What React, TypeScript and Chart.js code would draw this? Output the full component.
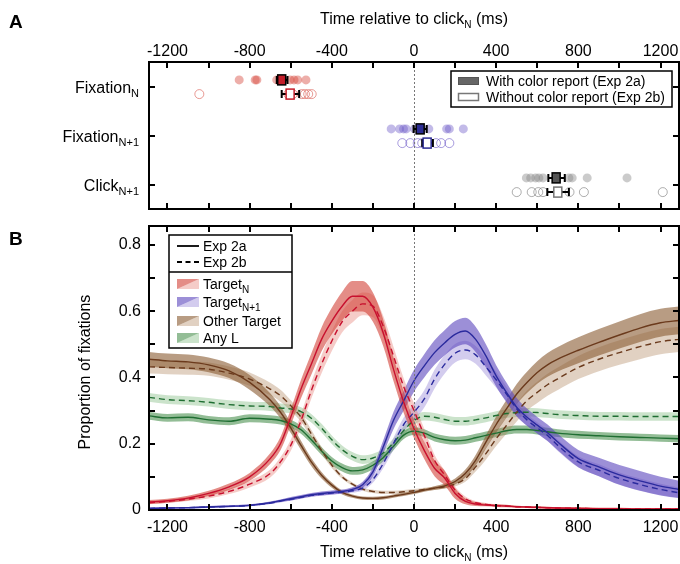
import React, { useEffect, useRef } from 'react';
import { Chart, registerables } from 'chart.js';
Chart.register(...registerables);

const FONT = '"Liberation Sans", Arial, Helvetica, sans-serif';
Chart.defaults.font.family = FONT;
Chart.defaults.color = '#000';

// ---------------- Panel A data (ms relative to click N) ----------------
const A_ROWS = ['Fixation', 'Fixation', 'Click'];
const A_ROW_SUBS = ['N', 'N+1', 'N+1'];
const fixN_2a_dots = [-851, -773, -765, -668, -639, -603, -584, -566, -526];
const fixN_2b_dots = [-1045, -612, -590, -547, -531, -515, -498];
const fixN1_2a_dots = [-111, -70, -51, -38, 2, 30, 72, 159, 172, 240];
const fixN1_2b_dots = [-57, -18, 18, 40, 64, 107, 132, 172];
const click_2a_dots = [547, 568, 592, 608, 628, 692, 754, 770, 843, 1037];
const click_2b_dots = [500, 573, 605, 628, 700, 757, 827, 1211];
const A_MEAN_2A = [-644, 30, 692];
const A_LO_2A = [-668, -2, 654];
const A_HI_2A = [-616, 62, 734];
const A_MEAN_2B = [-603, 64, 700];
const A_LO_2B = [-644, 40, 649];
const A_HI_2B = [-559, 92, 754];
const A_LEGEND = ['With color report (Exp 2a)', 'Without color report (Exp 2b)'];

// ---------------- Panel B data ----------------
const T = [-1290, -1200, -1100, -1000, -900, -800, -700, -650, -600, -550, -500, -450, -400, -350, -300, -250, -200, -150, -100, -50, 0, 50, 100, 150, 200, 250, 300, 350, 400, 450, 500, 550, 600, 650, 700, 800, 900, 1000, 1100, 1200, 1290];

const targetN_2a = [0.024, 0.028, 0.036, 0.05, 0.07, 0.1, 0.155, 0.2, 0.28, 0.365, 0.44, 0.515, 0.57, 0.615, 0.645, 0.645, 0.612, 0.535, 0.425, 0.325, 0.245, 0.18, 0.126, 0.096, 0.05, 0.026, 0.018, 0.015, 0.013, 0.012, 0.01, 0.009, 0.008, 0.007, 0.006, 0.005, 0.004, 0.004, 0.003, 0.003, 0.003];
const targetN_2a_se = [0.006, 0.006, 0.007, 0.008, 0.01, 0.012, 0.016, 0.02, 0.024, 0.028, 0.032, 0.036, 0.04, 0.043, 0.046, 0.046, 0.044, 0.04, 0.036, 0.032, 0.028, 0.026, 0.024, 0.022, 0.016, 0.009, 0.006, 0.004, 0.004, 0.004, 0.003, 0.003, 0.003, 0.003, 0.003, 0.003, 0.003, 0.003, 0.003, 0.003, 0.003];
const targetN_2b = [0.022, 0.026, 0.033, 0.042, 0.056, 0.078, 0.11, 0.145, 0.195, 0.27, 0.36, 0.44, 0.51, 0.568, 0.6, 0.622, 0.615, 0.555, 0.465, 0.372, 0.3, 0.225, 0.15, 0.105, 0.06, 0.034, 0.022, 0.017, 0.014, 0.012, 0.01, 0.009, 0.008, 0.007, 0.006, 0.005, 0.004, 0.004, 0.003, 0.003, 0.003];
const targetN_2b_se = [0.005, 0.005, 0.006, 0.007, 0.008, 0.01, 0.012, 0.014, 0.017, 0.02, 0.024, 0.027, 0.03, 0.032, 0.034, 0.034, 0.033, 0.031, 0.028, 0.025, 0.022, 0.02, 0.017, 0.014, 0.01, 0.007, 0.005, 0.004, 0.003, 0.003, 0.003, 0.003, 0.003, 0.003, 0.003, 0.003, 0.003, 0.003, 0.003, 0.003, 0.003];

const targetN1_2a = [0.005, 0.006, 0.007, 0.009, 0.011, 0.014, 0.022, 0.028, 0.034, 0.04, 0.046, 0.05, 0.053, 0.056, 0.062, 0.076, 0.115, 0.19, 0.27, 0.33, 0.39, 0.435, 0.475, 0.505, 0.53, 0.54, 0.515, 0.465, 0.405, 0.355, 0.31, 0.28, 0.256, 0.233, 0.205, 0.155, 0.13, 0.106, 0.088, 0.072, 0.062];
const targetN1_2a_se = [0.002, 0.002, 0.002, 0.003, 0.003, 0.003, 0.004, 0.004, 0.005, 0.005, 0.005, 0.006, 0.006, 0.006, 0.007, 0.009, 0.014, 0.02, 0.026, 0.03, 0.033, 0.035, 0.037, 0.038, 0.04, 0.04, 0.038, 0.035, 0.032, 0.03, 0.028, 0.026, 0.025, 0.025, 0.025, 0.026, 0.028, 0.03, 0.03, 0.028, 0.026];
const targetN1_2b = [0.005, 0.006, 0.007, 0.009, 0.011, 0.014, 0.021, 0.027, 0.032, 0.038, 0.044, 0.048, 0.051, 0.054, 0.058, 0.066, 0.092, 0.14, 0.2, 0.258, 0.295, 0.335, 0.395, 0.44, 0.473, 0.483, 0.468, 0.432, 0.393, 0.35, 0.305, 0.272, 0.248, 0.225, 0.195, 0.145, 0.12, 0.095, 0.077, 0.062, 0.052];
const targetN1_2b_se = [0.002, 0.002, 0.002, 0.002, 0.003, 0.003, 0.003, 0.004, 0.004, 0.004, 0.005, 0.005, 0.005, 0.005, 0.006, 0.007, 0.01, 0.014, 0.018, 0.021, 0.024, 0.026, 0.028, 0.028, 0.028, 0.028, 0.027, 0.026, 0.024, 0.022, 0.02, 0.018, 0.017, 0.017, 0.017, 0.017, 0.018, 0.018, 0.018, 0.017, 0.016];

const other_2a = [0.455, 0.45, 0.447, 0.438, 0.42, 0.385, 0.332, 0.295, 0.248, 0.195, 0.145, 0.105, 0.075, 0.053, 0.042, 0.036, 0.035, 0.037, 0.042, 0.047, 0.053, 0.06, 0.066, 0.073, 0.086, 0.11, 0.15, 0.205, 0.258, 0.305, 0.35, 0.385, 0.415, 0.438, 0.455, 0.482, 0.506, 0.528, 0.549, 0.565, 0.572];
const other_2a_se = [0.022, 0.022, 0.022, 0.022, 0.022, 0.022, 0.02, 0.018, 0.016, 0.014, 0.012, 0.01, 0.008, 0.006, 0.005, 0.005, 0.005, 0.005, 0.005, 0.005, 0.005, 0.005, 0.006, 0.007, 0.009, 0.012, 0.016, 0.02, 0.024, 0.027, 0.03, 0.032, 0.034, 0.036, 0.037, 0.039, 0.04, 0.041, 0.042, 0.042, 0.042];
const other_2b = [0.432, 0.43, 0.428, 0.425, 0.413, 0.395, 0.365, 0.345, 0.315, 0.28, 0.23, 0.18, 0.135, 0.1, 0.078, 0.063, 0.056, 0.053, 0.053, 0.055, 0.058, 0.062, 0.066, 0.07, 0.078, 0.095, 0.13, 0.17, 0.215, 0.255, 0.295, 0.33, 0.355, 0.378, 0.396, 0.43, 0.455, 0.475, 0.493, 0.508, 0.515];
const other_2b_se = [0.02, 0.02, 0.02, 0.02, 0.02, 0.02, 0.019, 0.018, 0.016, 0.014, 0.012, 0.01, 0.008, 0.006, 0.005, 0.005, 0.005, 0.005, 0.005, 0.005, 0.005, 0.005, 0.005, 0.006, 0.007, 0.01, 0.014, 0.018, 0.022, 0.025, 0.028, 0.03, 0.032, 0.033, 0.034, 0.035, 0.036, 0.037, 0.038, 0.038, 0.038];

const anyL_2a = [0.284, 0.278, 0.28, 0.272, 0.268, 0.277, 0.274, 0.27, 0.26, 0.242, 0.212, 0.178, 0.148, 0.128, 0.118, 0.121, 0.135, 0.158, 0.192, 0.226, 0.238, 0.232, 0.219, 0.212, 0.209, 0.211, 0.218, 0.225, 0.232, 0.239, 0.243, 0.243, 0.24, 0.236, 0.232, 0.227, 0.224, 0.221, 0.219, 0.217, 0.215];
const anyL_2a_se = [0.012, 0.012, 0.012, 0.012, 0.012, 0.012, 0.012, 0.012, 0.012, 0.012, 0.012, 0.012, 0.012, 0.012, 0.012, 0.012, 0.012, 0.012, 0.012, 0.012, 0.012, 0.012, 0.012, 0.012, 0.012, 0.012, 0.012, 0.012, 0.012, 0.012, 0.012, 0.012, 0.012, 0.012, 0.012, 0.012, 0.011, 0.011, 0.011, 0.011, 0.011];
const anyL_2b = [0.34, 0.333, 0.33, 0.325, 0.318, 0.314, 0.312, 0.308, 0.305, 0.297, 0.277, 0.247, 0.212, 0.182, 0.162, 0.152, 0.157, 0.172, 0.203, 0.24, 0.27, 0.283, 0.28, 0.273, 0.268, 0.268, 0.272, 0.278, 0.285, 0.291, 0.294, 0.295, 0.294, 0.291, 0.288, 0.285, 0.283, 0.283, 0.282, 0.282, 0.282];
const anyL_2b_se = [0.013, 0.013, 0.013, 0.013, 0.013, 0.013, 0.013, 0.013, 0.013, 0.013, 0.013, 0.013, 0.013, 0.013, 0.013, 0.013, 0.013, 0.013, 0.013, 0.013, 0.013, 0.013, 0.013, 0.013, 0.013, 0.013, 0.013, 0.013, 0.013, 0.013, 0.013, 0.013, 0.013, 0.013, 0.013, 0.013, 0.013, 0.013, 0.013, 0.013, 0.013];

const B_NAMES = ['Target', 'Target', 'Other Target', 'Any L'];
const B_SUBS = ['N', 'N+1', '', ''];
const EXP_NAMES = ['Exp 2a', 'Exp 2b'];

const X_LABEL_TICKS = [-1200, -800, -400, 0, 400, 800, 1200];
const X_MARK_TICKS = [-1200, -1000, -800, -600, -400, -200, 0, 200, 400, 600, 800, 1000, 1200];
const Y_LABEL_TICKS = [0, 0.2, 0.4, 0.6, 0.8];
const Y_MARK_TICKS = [0, 0.1, 0.2, 0.3, 0.4, 0.5, 0.6, 0.7, 0.8];

// ---------------- styles ----------------
const STYLE_B = [
  { line: '#c8102e', band2a: 'rgba(210,65,55,0.6)', band2b: 'rgba(228,120,110,0.38)' },
  { line: '#2b2b9e', band2a: 'rgba(95,75,190,0.62)', band2b: 'rgba(140,120,210,0.38)' },
  { line: '#6b3a1c', band2a: 'rgba(140,95,55,0.62)', band2b: 'rgba(175,135,95,0.38)' },
  { line: '#1f6e32', band2a: 'rgba(75,145,80,0.6)', band2b: 'rgba(125,185,125,0.4)' },
];
const STYLE_A = [
  { dot: 'rgba(215,75,65,0.45)', ring: 'rgba(220,100,90,0.65)', box: '#c41e2a', edge: '#c41e2a' },
  { dot: 'rgba(110,90,200,0.42)', ring: 'rgba(110,90,200,0.6)', box: '#2c2c94', edge: '#2c2c94' },
  { dot: 'rgba(130,130,130,0.42)', ring: 'rgba(120,120,120,0.6)', box: '#555555', edge: '#777777' },
];
const ROW_OFF = [-0.135, 0.155];

type Part = [string, boolean];
function drawRich(ctx: CanvasRenderingContext2D, parts: Part[], x: number, y: number, align: 'left' | 'center' | 'right', size: number, subSize: number, subDy: number) {
  const mf = `${size}px ${FONT}`;
  const sf = `${subSize}px ${FONT}`;
  const ws: number[] = [];
  let total = 0;
  for (const [t, s] of parts) {
    ctx.font = s ? sf : mf;
    const w = ctx.measureText(t).width;
    ws.push(w);
    total += w;
  }
  let cx = align === 'center' ? x - total / 2 : align === 'right' ? x - total : x;
  ctx.textAlign = 'left';
  ctx.textBaseline = 'alphabetic';
  ctx.fillStyle = '#000';
  parts.forEach(([t, s], i) => {
    ctx.font = s ? sf : mf;
    ctx.fillText(t, cx, s ? y + subDy : y);
    cx += ws[i];
  });
}

function drawFrame(ctx: CanvasRenderingContext2D, a: any, xs: any, ys: any, xt: number[], yt: number[]) {
  ctx.save();
  ctx.strokeStyle = '#000';
  ctx.lineWidth = 2;
  ctx.setLineDash([]);
  ctx.strokeRect(a.left, a.top, a.right - a.left, a.bottom - a.top);
  const L = 6;
  ctx.beginPath();
  for (const v of xt) {
    const px = Math.round(xs.getPixelForValue(v));
    ctx.moveTo(px, a.top); ctx.lineTo(px, a.top + L);
    ctx.moveTo(px, a.bottom); ctx.lineTo(px, a.bottom - L);
  }
  for (const v of yt) {
    const py = Math.round(ys.getPixelForValue(v));
    ctx.moveTo(a.left, py); ctx.lineTo(a.left + L, py);
    ctx.moveTo(a.right, py); ctx.lineTo(a.right - L, py);
  }
  ctx.stroke();
  ctx.restore();
}

function zeroLine(ctx: CanvasRenderingContext2D, a: any, xs: any) {
  const x0 = Math.round(xs.getPixelForValue(0)) + 0.5;
  ctx.save();
  ctx.strokeStyle = '#777';
  ctx.lineWidth = 1;
  ctx.setLineDash([2, 2]);
  ctx.beginPath();
  ctx.moveTo(x0, a.top); ctx.lineTo(x0, a.bottom);
  ctx.stroke();
  ctx.restore();
}

const TITLE_PARTS: Part[] = [['Time relative to click', false], ['N', true], [' (ms)', false]];

const aPlugin = {
  id: 'aDecor',
  afterDatasetsDraw(chart: any) {
    const { ctx, chartArea: a, scales } = chart;
    const xs = scales.x, ys = scales.y;
    zeroLine(ctx, a, xs);
    ctx.save();
    for (let i = 0; i < 3; i++) {
      for (let e = 0; e < 2; e++) {
        const m = e === 0 ? A_MEAN_2A[i] : A_MEAN_2B[i];
        const lo = e === 0 ? A_LO_2A[i] : A_LO_2B[i];
        const hi = e === 0 ? A_HI_2A[i] : A_HI_2B[i];
        const py = ys.getPixelForValue(i + ROW_OFF[e]);
        const pl = xs.getPixelForValue(lo), ph = xs.getPixelForValue(hi), pm = xs.getPixelForValue(m);
        ctx.strokeStyle = '#000';
        ctx.lineWidth = 2;
        ctx.beginPath();
        ctx.moveTo(pl, py); ctx.lineTo(ph, py);
        ctx.moveTo(pl, py - 4); ctx.lineTo(pl, py + 4);
        ctx.moveTo(ph, py - 4); ctx.lineTo(ph, py + 4);
        ctx.stroke();
        ctx.fillStyle = e === 0 ? STYLE_A[i].box : '#fff';
        ctx.fillRect(pm - 4, py - 5, 8, 10);
        ctx.strokeStyle = e === 0 ? '#000' : STYLE_A[i].edge;
        ctx.lineWidth = 1.5;
        ctx.strokeRect(pm - 4, py - 5, 8, 10);
      }
    }
    ctx.restore();
  },
  afterDraw(chart: any) {
    const { ctx, chartArea: a, scales } = chart;
    const xs = scales.x, ys = scales.y;
    drawFrame(ctx, a, xs, ys, X_MARK_TICKS, [0, 1, 2]);
    ctx.save();
    for (let i = 0; i < 3; i++) {
      const py = ys.getPixelForValue(i);
      drawRich(ctx, [[A_ROWS[i], false], [A_ROW_SUBS[i], true]], 139, py + 6, 'right', 16, 11, 4);
    }
    drawRich(ctx, TITLE_PARTS, 414, 24, 'center', 16, 10, 4);
    ctx.font = `bold 19px ${FONT}`;
    ctx.fillStyle = '#000';
    ctx.textAlign = 'left';
    ctx.textBaseline = 'alphabetic';
    ctx.fillText('A', 9, 28);
    // legend
    ctx.fillStyle = '#fff';
    ctx.fillRect(451, 71, 221, 36);
    ctx.strokeStyle = '#000';
    ctx.lineWidth = 1.5;
    ctx.strokeRect(451, 71, 221, 36);
    ctx.fillStyle = '#666';
    ctx.fillRect(458, 77, 21, 8);
    ctx.strokeStyle = '#555';
    ctx.lineWidth = 1;
    ctx.strokeRect(458.5, 77.5, 20, 7);
    ctx.fillStyle = '#fff';
    ctx.fillRect(458, 93, 21, 8);
    ctx.strokeStyle = '#777';
    ctx.lineWidth = 1.5;
    ctx.strokeRect(458.5, 93.5, 20, 7);
    drawRich(ctx, [[A_LEGEND[0], false]], 486, 86, 'left', 14, 10, 3);
    drawRich(ctx, [[A_LEGEND[1], false]], 486, 102, 'left', 14, 10, 3);
    ctx.restore();
  },
};

const bPlugin = {
  id: 'bDecor',
  afterDatasetsDraw(chart: any) {
    zeroLine(chart.ctx, chart.chartArea, chart.scales.x);
  },
  afterDraw(chart: any) {
    const { ctx, chartArea: a, scales } = chart;
    const xs = scales.x, ys = scales.y;
    drawFrame(ctx, a, xs, ys, X_MARK_TICKS, Y_MARK_TICKS);
    ctx.save();
    drawRich(ctx, TITLE_PARTS, 414, 342, 'center', 16, 10, 4);
    // y title
    ctx.save();
    ctx.translate(86, (a.top + a.bottom) / 2 + 4);
    ctx.rotate(-Math.PI / 2);
    ctx.font = `16px ${FONT}`;
    ctx.fillStyle = '#000';
    ctx.textAlign = 'center';
    ctx.textBaseline = 'middle';
    ctx.fillText('Proportion of fixations', 0, 0);
    ctx.restore();
    ctx.font = `bold 19px ${FONT}`;
    ctx.fillStyle = '#000';
    ctx.textAlign = 'left';
    ctx.textBaseline = 'alphabetic';
    ctx.fillText('B', 9, 30);
    // legend
    const L = 169, R = 292, TOP = 20, BOT = 133;
    ctx.fillStyle = '#fff';
    ctx.fillRect(L, TOP, R - L, BOT - TOP);
    ctx.strokeStyle = '#000';
    ctx.lineWidth = 1.5;
    ctx.strokeRect(L, TOP, R - L, BOT - TOP);
    ctx.beginPath();
    ctx.moveTo(L, 57); ctx.lineTo(R, 57);
    ctx.stroke();
    const rowsExp = [31, 47];
    for (let e = 0; e < 2; e++) {
      ctx.strokeStyle = '#000';
      ctx.lineWidth = 1.8;
      ctx.setLineDash(e === 0 ? [] : [5, 3.5]);
      ctx.beginPath();
      ctx.moveTo(177, rowsExp[e]); ctx.lineTo(199, rowsExp[e]);
      ctx.stroke();
      ctx.setLineDash([]);
      drawRich(ctx, [[EXP_NAMES[e], false]], 203, rowsExp[e] + 5, 'left', 14, 10, 3);
    }
    const rows = [69, 87, 106, 123];
    for (let s = 0; s < 4; s++) {
      const cy = rows[s];
      const x0 = 177, x1 = 199, y0 = cy - 5, y1 = cy + 5;
      ctx.fillStyle = STYLE_B[s].band2b;
      ctx.beginPath();
      ctx.moveTo(x1, y0); ctx.lineTo(x1, y1); ctx.lineTo(x0, y1); ctx.closePath();
      ctx.fill();
      ctx.fillStyle = STYLE_B[s].band2a;
      ctx.beginPath();
      ctx.moveTo(x0, y0); ctx.lineTo(x1, y0); ctx.lineTo(x0, y1); ctx.closePath();
      ctx.fill();
      const parts: Part[] = [[B_NAMES[s], false]];
      if (B_SUBS[s]) parts.push([B_SUBS[s], true]);
      drawRich(ctx, parts, 203, cy + 5, 'left', 14, 10, 4);
    }
    ctx.restore();
  },
};

const B_DATA = [
  [targetN_2a, targetN_2a_se, targetN_2b, targetN_2b_se],
  [targetN1_2a, targetN1_2a_se, targetN1_2b, targetN1_2b_se],
  [other_2a, other_2a_se, other_2b, other_2b_se],
  [anyL_2a, anyL_2a_se, anyL_2b, anyL_2b_se],
];

function buildBDatasets() {
  const ds: any[] = [];
  const common = { pointRadius: 0, cubicInterpolationMode: 'monotone' };
  for (let s = 0; s < 4; s++) {
    for (let e = 0; e < 2; e++) {
      const m = B_DATA[s][e * 2], se = B_DATA[s][e * 2 + 1];
      ds.push({ ...common, data: T.map((t, i) => ({ x: t, y: m[i] - se[i] })), borderWidth: 0, borderColor: 'rgba(0,0,0,0)', fill: false, order: 2 });
      ds.push({ ...common, data: T.map((t, i) => ({ x: t, y: m[i] + se[i] })), borderWidth: 0, borderColor: 'rgba(0,0,0,0)', fill: '-1', backgroundColor: e === 0 ? STYLE_B[s].band2a : STYLE_B[s].band2b, order: 2 });
    }
  }
  for (let s = 0; s < 4; s++) {
    for (let e = 0; e < 2; e++) {
      const m = B_DATA[s][e * 2];
      ds.push({ ...common, data: T.map((t, i) => ({ x: t, y: m[i] })), borderWidth: 1.4, borderColor: STYLE_B[s].line, borderDash: e === 0 ? [] : [6, 4], fill: false, order: 1 });
    }
  }
  return ds;
}

function buildADatasets() {
  const dots = [
    [fixN_2a_dots, fixN_2b_dots],
    [fixN1_2a_dots, fixN1_2b_dots],
    [click_2a_dots, click_2b_dots],
  ];
  const ds: any[] = [];
  for (let i = 0; i < 3; i++) {
    ds.push({ data: dots[i][0].map((v) => ({ x: v, y: i + ROW_OFF[0] })), pointRadius: 4.5, backgroundColor: STYLE_A[i].dot, borderWidth: 0, pointHoverRadius: 4.5 });
    ds.push({ data: dots[i][1].map((v) => ({ x: v, y: i + ROW_OFF[1] })), pointRadius: 4.5, backgroundColor: 'rgba(0,0,0,0)', borderColor: STYLE_A[i].ring, borderWidth: 1, pointHoverRadius: 4.5 });
  }
  return ds;
}

const xScaleBase = (pos: string, height: number, pad: number) => ({
  type: 'linear',
  position: pos,
  min: -1290,
  max: 1290,
  grid: { display: false, drawTicks: false },
  border: { display: false },
  ticks: { font: { size: 16, family: FONT }, color: '#000', padding: pad, maxRotation: 0, autoSkip: false, callback: (v: any) => String(v) },
  afterBuildTicks: (sc: any) => { sc.ticks = X_LABEL_TICKS.map((v) => ({ value: v })); },
  afterFit: (sc: any) => { sc.height = height; sc.paddingLeft = 0; sc.paddingRight = 0; },
});

export default function App() {
  const refA = useRef<HTMLCanvasElement>(null);
  const refB = useRef<HTMLCanvasElement>(null);
  useEffect(() => {
    const chartA = new Chart(refA.current as HTMLCanvasElement, {
      type: 'scatter',
      data: { datasets: buildADatasets() },
      options: {
        animation: false,
        responsive: false,
        events: [],
        layout: { autoPadding: false, padding: { left: 149, right: 1, top: 0, bottom: 6 } },
        plugins: { legend: { display: false }, tooltip: { enabled: false } },
        scales: {
          x: xScaleBase('top', 62, 1) as any,
          y: { type: 'linear', min: -0.5, max: 2.5, reverse: true, display: false },
        },
      },
      plugins: [aPlugin],
    } as any);
    const chartB = new Chart(refB.current as HTMLCanvasElement, {
      type: 'line',
      data: { datasets: buildBDatasets() },
      options: {
        animation: false,
        responsive: false,
        events: [],
        layout: { autoPadding: false, padding: { left: 0, right: 1, top: 11, bottom: 0 } },
        plugins: { legend: { display: false }, tooltip: { enabled: false } },
        scales: {
          x: xScaleBase('bottom', 54, 8) as any,
          y: {
            type: 'linear',
            min: 0,
            max: 0.857,
            grid: { display: false, drawTicks: false },
            border: { display: false },
            ticks: { font: { size: 16, family: FONT }, color: '#000', padding: 8, callback: (v: any) => String(v) },
            afterBuildTicks: (sc: any) => { sc.ticks = Y_LABEL_TICKS.map((v) => ({ value: v })); },
            afterFit: (sc: any) => { sc.width = 149; sc.paddingTop = 0; sc.paddingBottom = 0; },
          },
        },
      },
      plugins: [bPlugin],
    } as any);
    return () => {
      chartA.destroy();
      chartB.destroy();
    };
  }, []);
  return (
    <div style={{ position: 'fixed', left: 0, top: 0, width: 680, height: 564, background: '#fff', overflow: 'hidden' }}>
      <canvas ref={refA} width={680} height={215} style={{ position: 'absolute', left: 0, top: 0 }} />
      <canvas ref={refB} width={680} height={349} style={{ position: 'absolute', left: 0, top: 215 }} />
    </div>
  );
}
